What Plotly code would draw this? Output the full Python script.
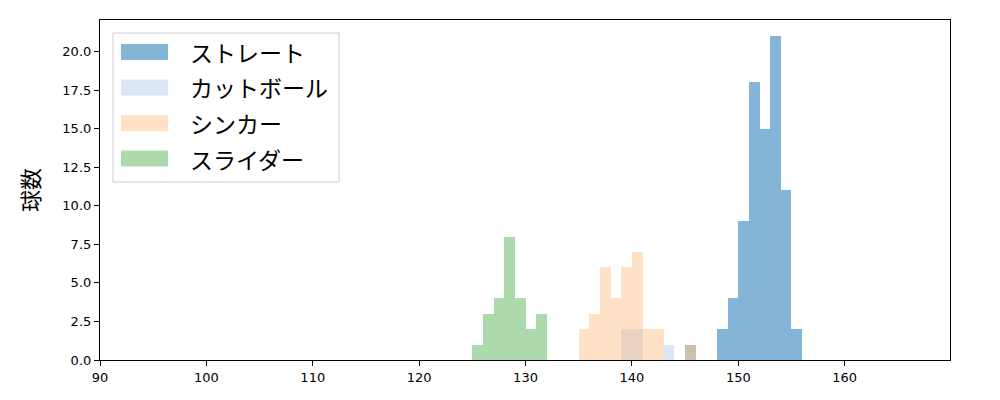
import plotly.graph_objects as go

# bin left edges (km/h) and counts
straight_bins = [148, 149, 150, 151, 152, 153, 154, 155]
straight_counts = [2, 4, 9, 18, 15, 21, 11, 2]

cutball_bins = [139, 140, 141, 142, 143]
cutball_counts = [2, 2, 0, 0, 1]

sinker_bins = [135, 136, 137, 138, 139, 140, 141, 142]
sinker_counts = [2, 3, 6, 4, 6, 7, 2, 2]

slider_bins = [125, 126, 127, 128, 129, 130, 131]
slider_counts = [1, 3, 4, 8, 4, 2, 3]

other_bins = [145]
other_counts = [1]

names = ['ストレート', 'カットボール', 'シンカー', 'スライダー']
colors = ['rgba(31,119,180,0.55)', 'rgba(174,199,232,0.45)',
          'rgba(255,187,120,0.42)', 'rgba(44,160,44,0.39)']

x_ticks = [90, 100, 110, 120, 130, 140, 150, 160]
y_ticks = [0, 2.5, 5, 7.5, 10, 12.5, 15, 17.5, 20]

JP_FONT = 'Noto Sans CJK JP'

fig = go.Figure()

series = [(straight_bins, straight_counts), (cutball_bins, cutball_counts),
          (sinker_bins, sinker_counts), (slider_bins, slider_counts)]
for (bins, counts), name, color in zip(series, names, colors):
    fig.add_trace(go.Bar(
        x=bins, y=counts, name=name, width=1, offset=0,
        marker=dict(color=color, line=dict(width=0)),
        showlegend=False,
    ))

fig.add_trace(go.Bar(
    x=other_bins, y=other_counts, width=1, offset=0,
    marker=dict(color='rgba(150,130,100,0.5)', line=dict(width=0)),
    showlegend=False,
))

# legend drawn by hand (plot area 850 x 340 px, top-left at page 100,20)
fig.add_shape(type='rect', xref='paper', yref='paper',
              x0=13 / 850, x1=239 / 850, y0=(360 - 182) / 340, y1=(360 - 33) / 340,
              line=dict(color='#cccccc', width=1), fillcolor='rgba(255,255,255,0.8)')
row_y = [52, 87.5, 123, 158.5]
for name, color, py in zip(names, colors, row_y):
    fig.add_shape(type='rect', xref='paper', yref='paper',
                  x0=21 / 850, x1=68 / 850,
                  y0=(360 - py - 8) / 340, y1=(360 - py + 8) / 340,
                  line=dict(width=0), fillcolor=color)
    fig.add_annotation(x=88 / 850, y=(360 - py) / 340, xref='paper', yref='paper',
                       text=name, showarrow=False, xanchor='left', yanchor='middle',
                       font=dict(size=23, color='#000', family=JP_FONT))

# page has an 8px body margin, so margins are shifted to keep the plot area in place
fig.update_layout(
    width=1000, height=400,
    barmode='overlay', bargap=0,
    plot_bgcolor='white', paper_bgcolor='white',
    margin=dict(l=92, r=58, t=12, b=48),
    font=dict(family='DejaVu Sans', size=13, color='#000'),
)
fig.update_xaxes(range=[90, 169.9], tickvals=x_ticks,
                 showline=True, linecolor='black', linewidth=1.2, mirror=True,
                 ticks='outside', ticklen=5, tickcolor='black', showgrid=False, zeroline=False)
fig.update_yaxes(range=[0, 22.05], tickvals=y_ticks, tickformat='.1f',
                 title=dict(text='球数', font=dict(size=22, family=JP_FONT), standoff=16),
                 showline=True, linecolor='black', linewidth=1.2, mirror=True,
                 ticks='outside', ticklen=5, tickcolor='black', showgrid=False, zeroline=False)

fig.write_html("out.html")
